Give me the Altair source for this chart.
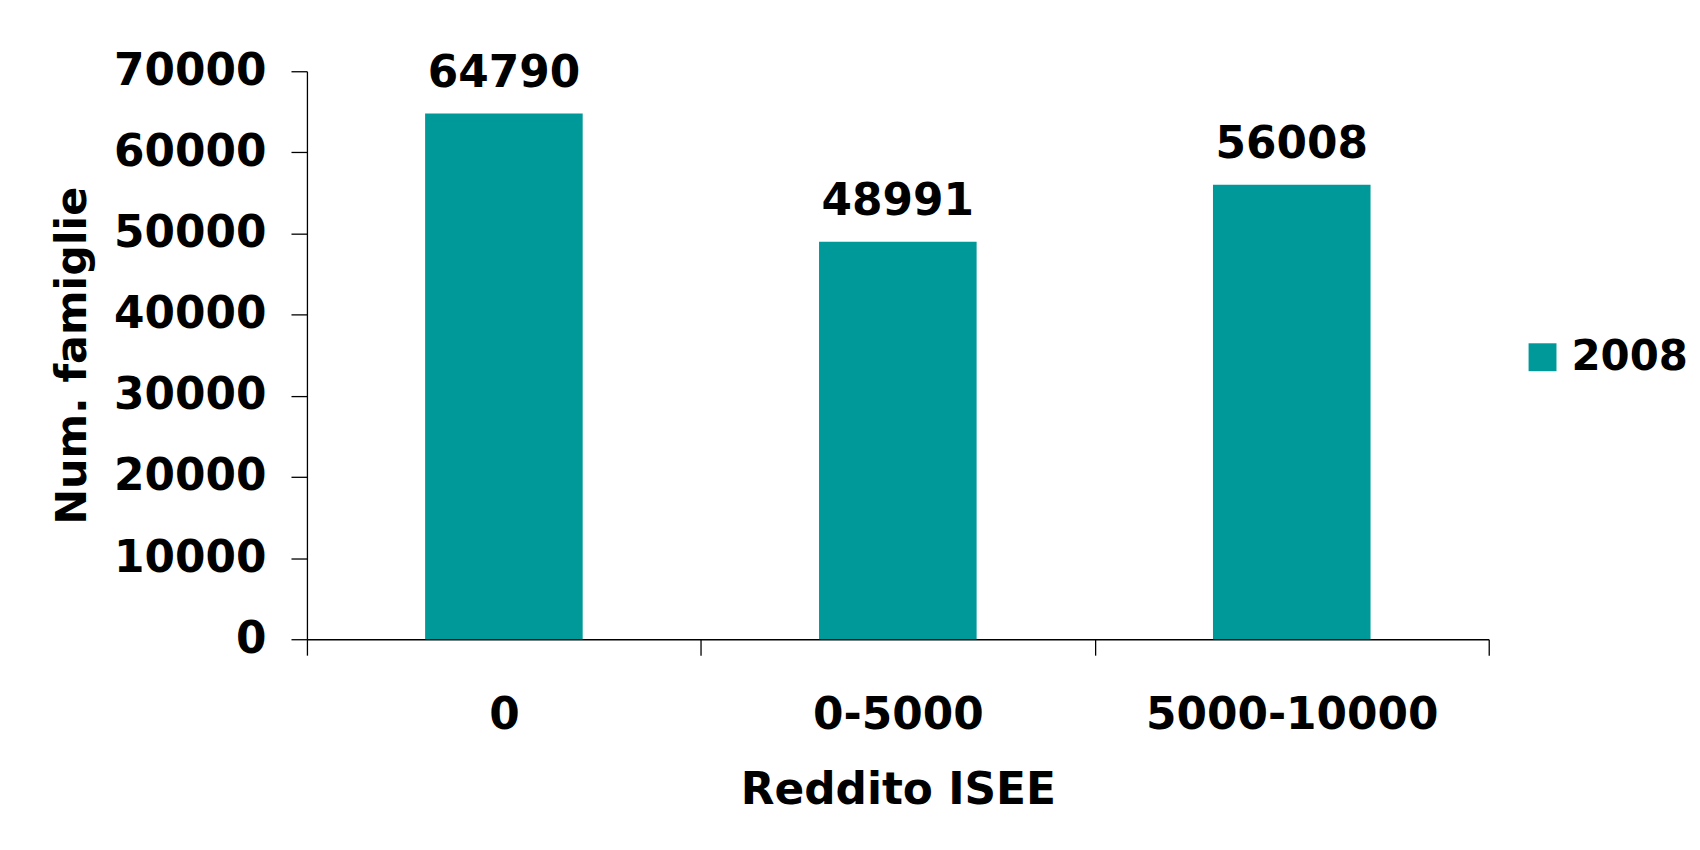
import altair as alt
import pandas as pd

categories = ["0", "0-5000", "5000-10000"]
values = [64790, 48991, 56008]
series = ["2008", "2008", "2008"]
y_ticks = [0, 10000, 20000, 30000, 40000, 50000, 60000, 70000]

df = pd.DataFrame({"Reddito": categories, "Famiglie": values, "Anno": series})

FONT = "DejaVu Sans"
FS = 44

x = alt.X(
    "Reddito:N",
    sort=categories,
    scale=alt.Scale(paddingInner=0, paddingOuter=0),
    axis=alt.Axis(
        title="Reddito ISEE",
        labelAngle=0,
        labelLimit=0,
        tickBand="extent",
        tickSize=16,
        labelPadding=74,
        labelBaseline="alphabetic",
        labelFontSize=FS,
        labelFontWeight="bold",
        labelFont=FONT,
        labelColor="black",
        titleFontSize=FS,
        titleFontWeight="bold",
        titleFont=FONT,
        titleColor="black",
        titleY=165,
        titleBaseline="alphabetic",
        domainColor="black",
        tickColor="black",
        domainWidth=1.3,
        tickWidth=1.3,
    ),
)

y = alt.Y(
    "Famiglie:Q",
    scale=alt.Scale(domain=[0, 70000], nice=False),
    axis=alt.Axis(
        title="Num. famiglie",
        values=y_ticks,
        format="d",
        grid=False,
        tickSize=16,
        labelPadding=25,
        labelFontSize=FS,
        labelFontWeight="bold",
        labelFont=FONT,
        labelColor="black",
        titleFontSize=43,
        titleFontWeight="bold",
        titleFont=FONT,
        titleColor="black",
        titleX=-222,
        titleBaseline="alphabetic",
        domainColor="black",
        tickColor="black",
        domainWidth=1.3,
        tickWidth=1.3,
    ),
)

bars = alt.Chart(df).mark_bar(width=alt.RelativeBandSize(0.4)).encode(
    x=x,
    y=y,
    color=alt.Color(
        "Anno:N",
        scale=alt.Scale(range=["#009999"]),
        legend=alt.Legend(
            title=None,
            orient="none",
            legendX=1219,
            legendY=266,
            padding=0,
            symbolType="square",
            symbolSize=784,
            symbolStrokeWidth=0,
            labelOffset=8,
            labelLimit=0,
            labelFontSize=42,
            labelFontWeight="bold",
            labelFont=FONT,
            labelColor="black",
        ),
    ),
)

labels = alt.Chart(df).mark_text(
    baseline="alphabetic",
    dy=-27,
    fontSize=FS,
    fontWeight="bold",
    font=FONT,
    color="black",
).encode(
    x=alt.X("Reddito:N", sort=categories),
    y=alt.Y("Famiglie:Q"),
    text=alt.Text("Famiglie:Q", format="d"),
)

chart = (
    alt.layer(bars, labels)
    .properties(
        width=1186,
        height=570,
        autosize=alt.AutoSizeParams(type="none"),
        padding={"left": 300, "top": 62, "right": 204, "bottom": 198},
        background="white",
    )
    .configure_view(stroke=None)
)

chart.save("out.html", embed_options={"renderer": "svg", "actions": False})
